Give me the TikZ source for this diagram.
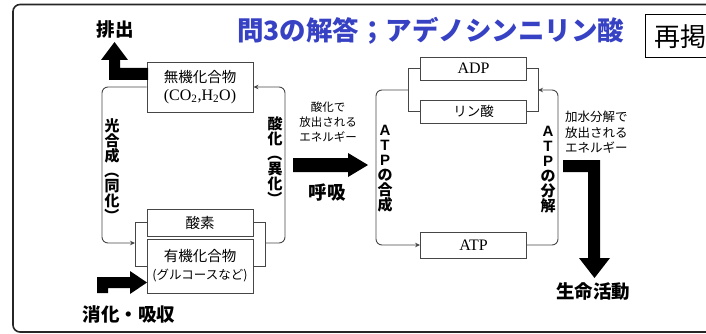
\documentclass[tikz,border=0pt]{standalone}
\usepackage{fontspec}
\setmainfont{Liberation Serif}
\newfontfamily\jp{Noto Sans CJK JP}
\newfontfamily\arl{Liberation Sans}
\usetikzlibrary{arrows.meta}
\definecolor{titleblue}{RGB}{55,65,195}
\definecolor{linegray}{RGB}{70,70,70}
\newcommand{\vop}{\rotatebox[origin=c]{-90}{（}}
\newcommand{\vcl}{\rotatebox[origin=c]{-90}{）}}
\begin{document}
\begin{tikzpicture}[x=1pt,y=-1pt,
  box/.style={draw=linegray, line width=0.9pt, fill=white, minimum width=106pt, inner sep=0pt, align=center},
  loopline/.style={draw=linegray, line width=0.9pt, rounded corners=6pt},
  brk/.style={draw=linegray, line width=0.9pt},
  tipped/.style={-{Stealth[length=5pt,width=4.5pt]}},
  fatarrow/.style={fill=black, draw=none},
  vlabel/.style={font=\jp\bfseries\fontsize{15}{15}\selectfont, align=center, inner sep=0pt},
  small/.style={font=\jp\fontsize{11.5}{15}\selectfont, align=center, inner sep=0pt},
  big/.style={font=\jp\bfseries\fontsize{18.5}{18.5}\selectfont, inner sep=0pt},
  boxtxt/.style={font=\jp\fontsize{14.5}{19}\selectfont}
]
\useasboundingbox (0,0) rectangle (706,334);
% outer frame
\draw[line width=1.6pt, rounded corners=7pt, draw=black!85] (13,4.5) rectangle (740,332);

% title
\node[font=\jp\bfseries\fontsize{26.5}{26.5}\selectfont, text=titleblue, anchor=west, inner sep=0pt] (title) at (237,31) {問3の解答；アデノシンニリン酸};
\node[draw=black, line width=1pt, anchor=west, font=\jp\fontsize{26}{26}\selectfont, inner xsep=9pt, minimum height=43pt] (repost) at (645,36.5) {再掲};

% ---------- left cycle ----------
\node[box, minimum height=50pt, boxtxt] (inorg) at (200,87) {無機化合物\\[-1pt]{\rmfamily\fontsize{16}{19}\selectfont (CO\textsubscript{2},H\textsubscript{2}O)}};
\node[box, minimum height=27pt, boxtxt] (o2) at (200,222.5) {酸素};
\node[box, minimum height=54pt, boxtxt] (org) at (200,266) {有機化合物\\[-1pt]{\fontsize{12.5}{19}\selectfont (グルコースなど)}};

\coordinate (lb1) at (135,222.5);
\coordinate (lb2) at (135,266);
\coordinate (rb1) at (265,222.5);
\coordinate (rb2) at (265,266);
\coordinate (lbin) at (135,243);
\coordinate (rbout) at (265,243);
\draw[brk] (o2.west) -- (lb1) -- (lb2) -- (org.west);
\draw[brk] (o2.east) -- (rb1) -- (rb2) -- (org.east);

\draw[loopline, tipped] (inorg.west) -- (102,87) -- (102,243) -- (lbin);
\draw[loopline, tipped] (rbout) -- (285,243) -- (285,87) -- (inorg.east);

\node[vlabel] (photo) at (112,171) {光\\合\\成\\\vop\\同\\化\\\vcl};
\node[vlabel] (oxid) at (275,161.5) {酸\\化\\\vop\\異\\化\\\vcl};

% excretion arrow
\fill[fatarrow] (148,68) -- (120,68) -- (120,60) -- (128,60) -- (114.5,42) -- (101,60) -- (109,60) -- (109,80) -- (148,80) -- cycle;
\node[big] (excr) at (115,29) {排出};

% digestion arrow
\fill[fatarrow] (97,293) -- (97,277) -- (130,277) -- (130,271) -- (147,282.5) -- (130,294) -- (130,288) -- (108,288) -- (108,293) -- cycle;
\node[big] (dig) at (129,314) {消化・吸収};

% middle
\node[small] (oxen) at (328,122) {酸化で\\放出される\\エネルギー};
\fill[fatarrow] (293,158) -- (348,158) -- (348,153) -- (368,165) -- (348,177) -- (348,172) -- (293,172) -- cycle;
\node[big] (resp) at (327,193) {呼吸};

% ---------- right cycle ----------
\node[box, minimum height=23pt, boxtxt] (adp) at (473.5,68.5) {{\rmfamily\fontsize{16}{19}\selectfont ADP}};
\node[box, minimum height=23pt, boxtxt] (pi) at (473.5,111.5) {{\fontsize{13.5}{19}\selectfont リン酸}};
\node[box, minimum height=26pt, boxtxt] (atp) at (473.5,245) {{\rmfamily\fontsize{16}{19}\selectfont ATP}};

\coordinate (la1) at (408,68.5);
\coordinate (la2) at (408,111.5);
\coordinate (ra1) at (538,68.5);
\coordinate (ra2) at (538,111.5);
\coordinate (laout) at (408,90);
\coordinate (rain) at (538,90);
\draw[brk] (adp.west) -- (la1) -- (la2) -- (pi.west);
\draw[brk] (adp.east) -- (ra1) -- (ra2) -- (pi.east);

\draw[loopline, tipped] (laout) -- (376,90) -- (376,245) -- (atp.west);
\draw[loopline, tipped] (atp.east) -- (558,245) -- (558,90) -- (rain);

\node[vlabel] (synth) at (385,168.5) {{\arl\bfseries A}\\{\arl\bfseries T}\\{\arl\bfseries P}\\の\\合\\成};
\node[vlabel] (decomp) at (548,170) {{\arl\bfseries A}\\{\arl\bfseries T}\\{\arl\bfseries P}\\の\\分\\解};

\node[small, font=\jp\fontsize{12.5}{15.5}\selectfont, align=left, anchor=west] (hyen) at (565,132.5) {加水分解で\\放出される\\エネルギー};

\fill[fatarrow] (563,160) -- (600,160) -- (600,258) -- (610,258) -- (594.5,278) -- (579,258) -- (588,258) -- (588,172) -- (563,172) -- cycle;
\node[big] (life) at (593,292) {生命活動};
\end{tikzpicture}
\end{document}
